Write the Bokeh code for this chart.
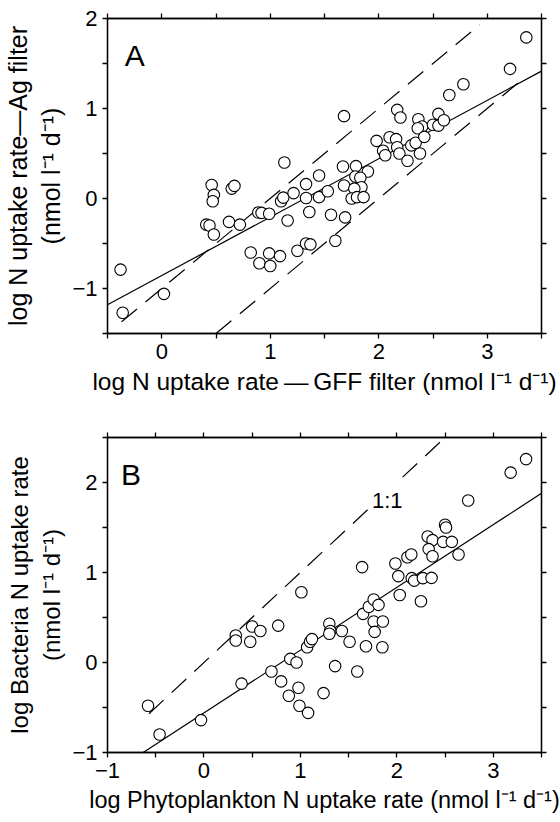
from bokeh.plotting import figure
from bokeh.layouts import column
from bokeh.models import LinearAxis, FixedTicker, Label, Range1d
from bokeh.embed import file_html
from bokeh.resources import INLINE

FONT = "Liberation Sans"

# ---------------- Panel A: Ag filter vs GFF filter ----------------
a_gff = [-0.38, -0.36, 0.02, 0.46, 0.48, 0.47, 0.41, 0.44, 0.48, 0.645,
         0.67, 0.62, 0.72, 0.89, 0.92, 0.99, 0.82, 0.90, 0.99, 1.00,
         1.09, 1.25, 1.33, 1.37, 1.60, 1.10, 1.12, 1.16, 1.36, 1.56,
         1.69, 1.13, 1.215, 1.33, 1.33, 1.45, 1.45, 1.53, 1.68, 1.67,
         1.79, 1.90, 1.785, 1.83, 1.84, 1.68, 1.775, 1.75, 1.80, 1.86,
         1.98, 2.04, 2.06, 2.10, 2.16, 2.17, 2.20, 2.17, 2.19, 2.265,
         2.30, 2.34, 2.365, 2.40, 2.36, 2.42, 2.38, 2.50, 2.55, 2.55,
         2.60, 2.65, 2.78, 3.21, 3.36]
a_ag = [-0.79, -1.27, -1.06, 0.15, 0.04, -0.03, -0.29, -0.30, -0.40, 0.11,
        0.14, -0.26, -0.29, -0.155, -0.16, -0.17, -0.60, -0.72, -0.61, -0.75,
        -0.64, -0.58, -0.50, -0.51, -0.47, -0.03, 0.01, -0.245, -0.15, -0.18,
        -0.21, 0.40, 0.06, 0.16, 0.005, 0.255, 0.015, 0.08, 0.915, 0.355,
        0.36, 0.30, 0.245, 0.23, 0.125, 0.145, 0.11, 0.0, 0.015, 0.015,
        0.64, 0.53, 0.48, 0.68, 0.66, 0.985, 0.90, 0.57, 0.50, 0.42,
        0.59, 0.62, 0.88, 0.80, 0.78, 0.685, 0.50, 0.82, 0.81, 0.94,
        0.87, 1.15, 1.27, 1.44, 1.79]
a_fit_x = [-0.5, 3.5]
a_fit_y = [-1.18, 1.415]
a_dash_xs = [[-0.37, 2.93], [0.5, 3.35]]
a_dash_ys = [[-1.37, 1.93], [-1.5, 1.35]]
a_xrange = (-0.5, 3.5)
a_yrange = (-1.5, 2.0)
a_xticks = [0, 1, 2, 3]
a_xtick_labels = ["0", "1", "2", "3"]
a_xminor = [-0.5, 0.5, 1.5, 2.5, 3.5]
a_yticks = [-1, 0, 1, 2]
a_ytick_labels = ["\u22121", "0", "1", "2"]
a_yminor = [-1.5, -0.5, 0.5, 1.5]
a_xlabel = "log N uptake rate\u2009\u2014\u2009GFF filter (nmol l\u207b\u00b9 d\u207b\u00b9)"
a_ylabel = "log N uptake rate\u2014Ag filter\n(nmol l\u207b\u00b9 d\u207b\u00b9)"

# ---------------- Panel B: Bacteria vs Phytoplankton ----------------
b_phyto = [-0.58, -0.46, -0.03, 0.33, 0.33, 0.50, 0.585, 0.48, 0.77, 0.39,
           0.70, 0.80, 0.895, 0.96, 0.88, 0.98, 0.99, 1.08, 1.01, 1.07,
           1.10, 1.12, 1.24, 1.30, 1.31, 1.30, 1.43, 1.51, 1.36, 1.59,
           1.64, 1.65, 1.71, 1.76, 1.81, 1.76, 1.855, 1.77, 1.68, 1.85,
           1.985, 2.015, 2.03, 2.11, 2.15, 2.155, 2.18, 2.27, 2.36, 2.25,
           2.32, 2.37, 2.33, 2.37, 2.48, 2.57, 2.50, 2.51, 2.64, 2.74,
           3.18, 3.34]
b_bact = [-0.48, -0.80, -0.64, 0.30, 0.245, 0.40, 0.35, 0.23, 0.41, -0.235,
          -0.10, -0.21, 0.04, 0.0, -0.37, -0.28, -0.48, -0.56, 0.78, 0.17,
          0.23, 0.26, -0.34, 0.43, 0.35, 0.32, 0.35, 0.23, -0.04, -0.10,
          1.06, 0.54, 0.62, 0.70, 0.64, 0.456, 0.456, 0.34, 0.18, 0.17,
          1.10, 0.96, 0.75, 1.17, 1.20, 0.937, 0.91, 0.937, 0.94, 0.68,
          1.40, 1.36, 1.26, 1.18, 1.34, 1.34, 1.53, 1.50, 1.20, 1.80,
          2.11, 2.26]
b_fit_x = [-0.63, 3.5]
b_fit_y = [-1.0, 1.88]
b_dash_xs = [[-0.57, 1.71], [2.06, 2.47]]
b_dash_ys = [[-0.57, 1.71], [2.06, 2.47]]
b_xrange = (-1.0, 3.5)
b_yrange = (-1.0, 2.5)
b_xticks = [-1, 0, 1, 2, 3]
b_xtick_labels = ["\u22121", "0", "1", "2", "3"]
b_xminor = [-0.5, 0.5, 1.5, 2.5, 3.5]
b_yticks = [-1, 0, 1, 2]
b_ytick_labels = ["\u22121", "0", "1", "2"]
b_yminor = [-0.5, 0.5, 1.5, 2.5]
b_xlabel = "log Phytoplankton N uptake rate (nmol l\u207b\u00b9 d\u207b\u00b9)"
b_ylabel = "log Bacteria N uptake rate\n(nmol l\u207b\u00b9 d\u207b\u00b9)"

TICK_FONT = "22px"
DASH = "20 11"


def style_axis(ax, ticks, labels, minor, show=True):
    ax.axis_line_color = "black"
    ax.axis_line_width = 1.3
    ax.major_tick_line_color = "black"
    ax.major_tick_line_width = 1.3
    ax.minor_tick_line_color = "black"
    ax.minor_tick_line_width = 1.3
    ax.major_tick_in = 0
    ax.major_tick_out = 5
    ax.minor_tick_in = 0
    ax.minor_tick_out = 5
    ax.major_label_text_font = FONT
    ax.major_label_text_color = "black"
    ax.axis_label_text_font = FONT
    ax.axis_label_text_font_style = "normal"
    ax.axis_label_text_color = "black"
    ax.major_label_text_font_size = TICK_FONT
    if show:
        ax.ticker = FixedTicker(ticks=ticks, minor_ticks=minor)
        ax.major_label_overrides = dict(zip(ticks, labels))
        ax.major_label_standoff = 5
    else:
        # frame-side axis: tick marks only, no labels
        ax.ticker = FixedTicker(ticks=[], minor_ticks=sorted(list(ticks) + list(minor)))
        ax.major_label_standoff = 0


def make_panel(xr, yr, xt, xtl, xm, yt, ytl, ym, xlabel, ylabel, top, bottom,
               xlabel_size, ylabel_size):
    p = figure(width=560, height=411, x_range=Range1d(*xr), y_range=Range1d(*yr),
               output_backend="svg", toolbar_location=None,
               min_border_left=100, min_border_right=19,
               min_border_top=top, min_border_bottom=bottom)
    p.grid.visible = False
    p.outline_line_color = "black"
    p.outline_line_width = 1.3
    p.background_fill_color = "white"
    p.border_fill_color = "white"
    top_ax = LinearAxis()
    right_ax = LinearAxis()
    p.add_layout(top_ax, "above")
    p.add_layout(right_ax, "right")
    style_axis(p.below[0], xt, xtl, xm)
    style_axis(p.left[0], yt, ytl, ym)
    style_axis(top_ax, xt, xtl, xm, show=False)
    style_axis(right_ax, yt, ytl, ym, show=False)
    p.below[0].axis_label = xlabel
    p.left[0].axis_label = ylabel
    p.below[0].axis_label_text_font_size = xlabel_size
    p.left[0].axis_label_text_font_size = ylabel_size
    p.below[0].axis_label_standoff = 6
    p.left[0].axis_label_standoff = 4
    return p


pA = make_panel(a_xrange, a_yrange, a_xticks, a_xtick_labels, a_xminor,
                a_yticks, a_ytick_labels, a_yminor, a_xlabel, a_ylabel, 18, 78,
                "24.5px", "25px")
pA.multi_line(a_dash_xs, a_dash_ys, line_color="black", line_width=1.2, line_dash=DASH)
pA.line(a_fit_x, a_fit_y, line_color="black", line_width=1.2)
pA.scatter(a_gff, a_ag, marker="circle", size=11.5, fill_color="white",
           line_color="black", line_width=1.1)
pA.add_layout(Label(x=-0.34, y=1.59, text="A", text_font=FONT, text_font_size="30px",
                    text_align="left", text_baseline="alphabetic", text_color="black"))

pB = make_panel(b_xrange, b_yrange, b_xticks, b_xtick_labels, b_xminor,
                b_yticks, b_ytick_labels, b_yminor, b_xlabel, b_ylabel, 26, 70,
                "23.5px", "24px")
pB.multi_line(b_dash_xs, b_dash_ys, line_color="black", line_width=1.2, line_dash=DASH)
pB.line(b_fit_x, b_fit_y, line_color="black", line_width=1.2)
pB.scatter(b_phyto, b_bact, marker="circle", size=11.5, fill_color="white",
           line_color="black", line_width=1.1)
pB.add_layout(Label(x=-0.86, y=2.09, text="B", text_font=FONT, text_font_size="30px",
                    text_align="left", text_baseline="alphabetic", text_color="black"))
pB.add_layout(Label(x=1.90, y=1.80, text="1:1", text_font=FONT, text_font_size="22px",
                    text_align="center", text_baseline="alphabetic", text_color="black"))

layout = column(pA, pB, spacing=0)
open("out.html", "w").write(file_html(layout, INLINE))
